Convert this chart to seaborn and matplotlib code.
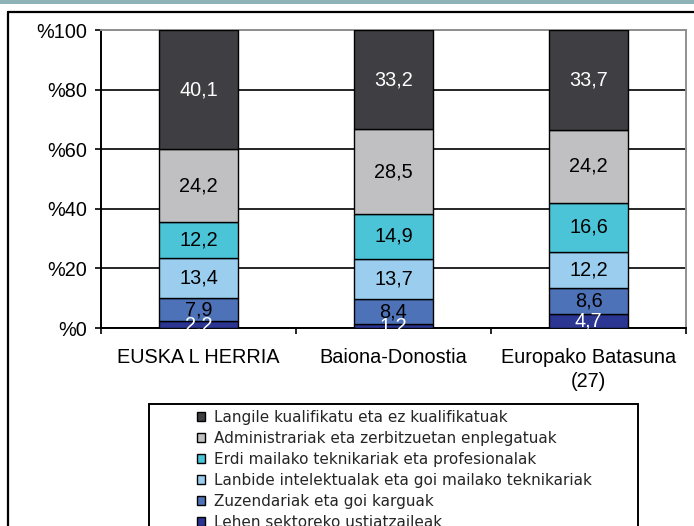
import matplotlib
matplotlib.use("Agg")
import matplotlib.pyplot as plt
import seaborn as sns
import numpy as np
import pandas as pd
from matplotlib.patches import Rectangle, Patch
from matplotlib.lines import Line2D

# ---- data ----
categories = ["EUSKA L HERRIA", "Baiona-Donostia", "Europako Batasuna\n(27)"]
series_names = [
    "Lehen sektoreko ustiatzaileak",
    "Zuzendariak eta goi karguak",
    "Lanbide intelektualak eta goi mailako teknikariak",
    "Erdi mailako teknikariak eta profesionalak",
    "Administrariak eta zerbitzuetan enplegatuak",
    "Langile kualifikatu eta ez kualifikatuak",
]
lehen = [2.2, 1.2, 4.7]
zuzendariak = [7.9, 8.4, 8.6]
lanbide = [13.4, 13.7, 12.2]
erdi = [12.2, 14.9, 16.6]
administrariak = [24.2, 28.5, 24.2]
langile = [40.1, 33.2, 33.7]
yticks = [0, 20, 40, 60, 80, 100]
ytick_labels = ["%0", "%20", "%40", "%60", "%80", "%100"]

series_values = [lehen, zuzendariak, lanbide, erdi, administrariak, langile]
colors = ["#2b3592", "#4e72b8", "#9acdee", "#4bc4d8", "#c0c0c2", "#3f3f43"]
label_colors = ["white", "black", "black", "black", "black", "white"]

sns.set_theme(style="white")
plt.rcParams["font.family"] = ["Liberation Sans", "DejaVu Sans"]
FS = 14.3

fig = plt.figure(figsize=(6.94, 5.26), dpi=100)
ax = fig.add_axes([101 / 694, 1 - 328 / 526, 585 / 694, 298 / 526])

# decorative frame
fig.add_artist(Rectangle((0, 1 - 4 / 526), 1, 4 / 526, transform=fig.transFigure,
                         facecolor="#8db3b8", edgecolor="none"))
fig.add_artist(Line2D([7.5 / 694, 1], [1 - 12 / 526, 1 - 12 / 526], transform=fig.transFigure,
                      color="black", linewidth=1.6))
fig.add_artist(Line2D([8 / 694, 8 / 694], [1 - 12 / 526, 0], transform=fig.transFigure,
                      color="black", linewidth=1.6))

bottom = np.zeros(len(categories))
for name, vals, col, lc in zip(series_names, series_values, colors, label_colors):
    df = pd.DataFrame({"cat": categories, "val": vals})
    sns.barplot(data=df, x="cat", y="val", order=categories, color=col, bottom=bottom,
                width=0.41, edgecolor="black", linewidth=1.0, saturation=1, ax=ax, zorder=3)
    cont = ax.containers[-1]
    for p in cont.patches:
        p.set_facecolor(col)
    texts = ax.bar_label(cont, labels=[f"{v:.1f}".replace(".", ",") for v in vals],
                         label_type="center", color=lc, fontsize=FS)
    for t in texts:
        t.set_clip_on(True)
        t.set_zorder(4)
    bottom = bottom + np.array(vals)

ax.set_xlim(-0.5, 2.5)
ax.set_ylim(0, 100)
ax.set_yticks(yticks)
ax.set_yticklabels(ytick_labels)
ax.set_xlabel("")
ax.set_ylabel("")
for t in ax.get_xticklabels():
    t.set_linespacing(1.35)

# gridlines
ax.yaxis.grid(True, color="black", linewidth=1.2, zorder=0)
ax.set_axisbelow(True)
ax.xaxis.grid(False)

for s in ["left", "bottom"]:
    ax.spines[s].set_color("black")
    ax.spines[s].set_linewidth(1.4)
for s in ["right", "top"]:
    ax.spines[s].set_color("#909090")
    ax.spines[s].set_linewidth(1.4)

ax.tick_params(axis="y", which="major", direction="out", length=4.5, width=1.2,
               color="black", labelsize=FS, pad=5.5, left=True, labelcolor="black")
ax.tick_params(axis="x", which="major", length=0, labelsize=FS, pad=14.5, labelcolor="black")
ax.set_xticks([-0.5, 0.5, 1.5, 2.5], minor=True)
ax.tick_params(axis="x", which="minor", direction="out", length=4.5, width=1.2,
               color="black", bottom=True)

# legend frame
fig.add_artist(Rectangle((149 / 694, -0.05), (638 - 149) / 694, 1 - 404 / 526 + 0.05,
                         transform=fig.transFigure, facecolor="white", edgecolor="black",
                         linewidth=1.4))
handles = [Patch(facecolor=c, edgecolor="black", linewidth=1.0) for c in colors[::-1]]
fig.legend(handles, series_names[::-1], loc="upper left",
           bbox_to_anchor=(197 / 694, 1 - 410 / 526), frameon=False,
           borderpad=0, borderaxespad=0, handlelength=0.5, handleheight=0.5,
           handletextpad=0.6, labelspacing=0.39,
           prop={"family": "DejaVu Sans", "size": 11})

fig.savefig("out.png", dpi=100)
